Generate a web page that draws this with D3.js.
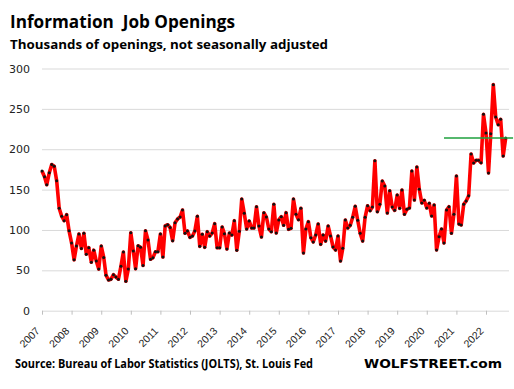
<!DOCTYPE html>
<html>
<head>
<meta charset="utf-8">
<script src="https://cdn.jsdelivr.net/npm/d3@7"></script>
<style>
  body { margin: 0; background: #fff; }
  svg { display: block; }
</style>
</head>
<body>
<div id="chart"></div>
<script>
// monthly job openings, thousands, NSA (Jan 2007 .. Sep 2022)
var firstMonth = "2007-01";
var openings = [
  173, 166, 156, 171, 181, 179, 161, 127, 117, 111.5, 119, 99,        // 2007
  84, 63, 80, 95, 77, 96, 70, 78, 60, 75, 61.5, 51.6,                 // 2008
  80, 66, 44, 38, 39, 44.6, 41.7, 39, 55, 72.7, 36.4, 51.6,           // 2009
  96.6, 74, 52, 80.5, 78.5, 56, 99, 87.6, 63.7, 65.7, 73, 73,         // 2010
  95, 66.5, 105, 106.5, 103, 86.7, 109, 113.6, 116, 124.7, 95.9, 98.7, // 2011
  90.9, 92.5, 98.7, 117, 79.7, 94.6, 78.5, 97.9, 92.5, 96.2, 107.8, 78, // 2012
  78, 103.7, 95.4, 76.4, 96.2, 93.8, 111.5, 75, 98.3, 138.4, 120.6, 101.2, // 2013
  111, 102.4, 102.4, 128.8, 104.9, 91.3, 121.4, 116, 101.2, 97.9, 131.8, 96.2, // 2014
  112.4, 116.5, 105.8, 121.4, 100.8, 102, 138.4, 119.4, 112.7, 126.8, 71.5, 101.2, // 2015
  110.3, 90.5, 85.1, 93.8, 107.4, 82.2, 93.8, 86.3, 104.9, 92.5, 78.9, 75.2, // 2016
  92.5, 61.6, 77.3, 112.4, 102.4, 105.8, 115.7, 129.3, 112, 95.9, 86.3, 115.7, // 2017
  130, 123.9, 128.4, 185.8, 122.7, 131.8, 160.7, 154.5, 121, 148.6, 128.4, 124.3, // 2018
  143.3, 126.8, 149.5, 119.4, 125.6, 127.2, 173, 137.1, 178, 150.3, 133.4, 136.7, // 2019
  127.2, 133, 117.3, 130.9, 75.2, 91.7, 101.2, 83.9, 124.7, 128.8, 95.9, 119.4, // 2020
  166.9, 107.4, 106.2, 131.8, 135.9, 142.5, 194.1, 183, 186.3, 186.3, 183.3, 243.3, // 2021
  220.1, 170.6, 219.3, 280, 240, 230.4, 237, 191.6, 213.9             // 2022
];
var yTicks = [0, 50, 100, 150, 200, 250, 300];
var yearTicks = [2007, 2008, 2009, 2010, 2011, 2012, 2013, 2014, 2015, 2016, 2017, 2018, 2019, 2020, 2021, 2022];
// green reference line at latest level
var refFrom = "2020-08", refTo = "2022-12";

var titleText = "Information\u00a0\u00a0Job Openings";
var subtitleText = "Thousands of openings, not seasonally adjusted";
var sourceText = "Source: Bureau of Labor Statistics (JOLTS), St. Louis Fed";
var brandText = "WOLFSTREET.com";

// set the dimensions and margins of the graph
var W = 514, H = 389;
var margin = {top: 68.5, right: 5, bottom: 78.3, left: 42},
    width = W - margin.left - margin.right,
    height = H - margin.top - margin.bottom;

var parseMonth = d3.timeParse("%Y-%m");
var start = parseMonth(firstMonth);
var data = openings.map(function(v, i) {
  return {date: d3.timeMonth.offset(start, i), value: v};
});

var svg0 = d3.select("#chart")
  .append("svg")
    .attr("width", W)
    .attr("height", H);

var svg = svg0.append("g")
    .attr("transform", "translate(" + margin.left + "," + margin.top + ")");

// X scale: year ticks 2007..2022
var x = d3.scaleTime()
  .domain([new Date(2007, 0, 1), new Date(2022, 0, 1)])
  .range([0, 444]);

var y = d3.scaleLinear()
  .domain([0, 300])
  .range([height, 0]);

// Y axis + gridlines
var yAxis = svg.append("g")
  .call(d3.axisLeft(y).tickValues(yTicks).tickSize(-width).tickPadding(12));
yAxis.select(".domain").remove();
yAxis.selectAll(".tick line").attr("stroke", "#d9d9d9").attr("stroke-width", 1);
yAxis.selectAll(".tick text")
  .attr("fill", "#222")
  .style("font-family", "DejaVu Sans")
  .style("font-size", "11px");

// X axis ticks
var xAxis = svg.append("g")
  .attr("transform", "translate(0," + height + ")")
  .call(d3.axisBottom(x)
    .tickValues(yearTicks.map(function(yr) { return new Date(yr, 0, 1); }))
    .tickSize(4)
    .tickFormat(d3.timeFormat("%Y")));
xAxis.select(".domain").remove();
xAxis.selectAll(".tick line").attr("stroke", "#bfbfbf");
xAxis.selectAll(".tick text")
  .attr("fill", "#222")
  .attr("y", 0).attr("dy", 0)
  .attr("text-anchor", "end")
  .attr("transform", "translate(-2,21) rotate(-45)")
  .style("font-family", "Liberation Sans")
  .style("font-size", "10.5px");

// red line
svg.append("path")
  .datum(data)
  .attr("fill", "none")
  .attr("stroke", "#ff0000")
  .attr("stroke-width", 3.6)
  .attr("stroke-linejoin", "round")
  .attr("d", d3.line()
    .x(function(d) { return x(d.date); })
    .y(function(d) { return y(d.value); }));

// dots
svg.append("g")
  .selectAll("dot")
  .data(data)
  .enter()
  .append("circle")
    .attr("cx", function(d) { return x(d.date); })
    .attr("cy", function(d) { return y(d.value); })
    .attr("r", 1.5)
    .style("fill", "#111");

// green line at latest value
var last = openings[openings.length - 1];
svg.append("line")
  .attr("x1", x(parseMonth(refFrom)))
  .attr("x2", x(parseMonth(refTo)))
  .attr("y1", y(last))
  .attr("y2", y(last))
  .attr("stroke", "#1ea03c")
  .attr("stroke-width", 1.3);

// titles
svg0.append("text")
  .attr("x", 10).attr("y", 28)
  .attr("textLength", 225).attr("lengthAdjust", "spacingAndGlyphs")
  .style("font-family", "Open Sans").style("font-weight", "bold").style("font-size", "17px")
  .text(titleText);

svg0.append("text")
  .attr("x", 10).attr("y", 48.5)
  .attr("textLength", 318).attr("lengthAdjust", "spacingAndGlyphs")
  .style("font-family", "Open Sans").style("font-weight", "bold").style("font-size", "12.5px")
  .text(subtitleText);

svg0.append("text")
  .attr("x", 15).attr("y", 368)
  .attr("textLength", 298).attr("lengthAdjust", "spacingAndGlyphs")
  .style("font-family", "Open Sans").style("font-weight", "bold").style("font-size", "11.5px")
  .text(sourceText);

svg0.append("text")
  .attr("x", 364).attr("y", 367.5)
  .attr("textLength", 138).attr("lengthAdjust", "spacingAndGlyphs")
  .style("font-family", "DejaVu Sans").style("font-weight", "bold").style("font-size", "12px")
  .text(brandText);
</script>
</body>
</html>
